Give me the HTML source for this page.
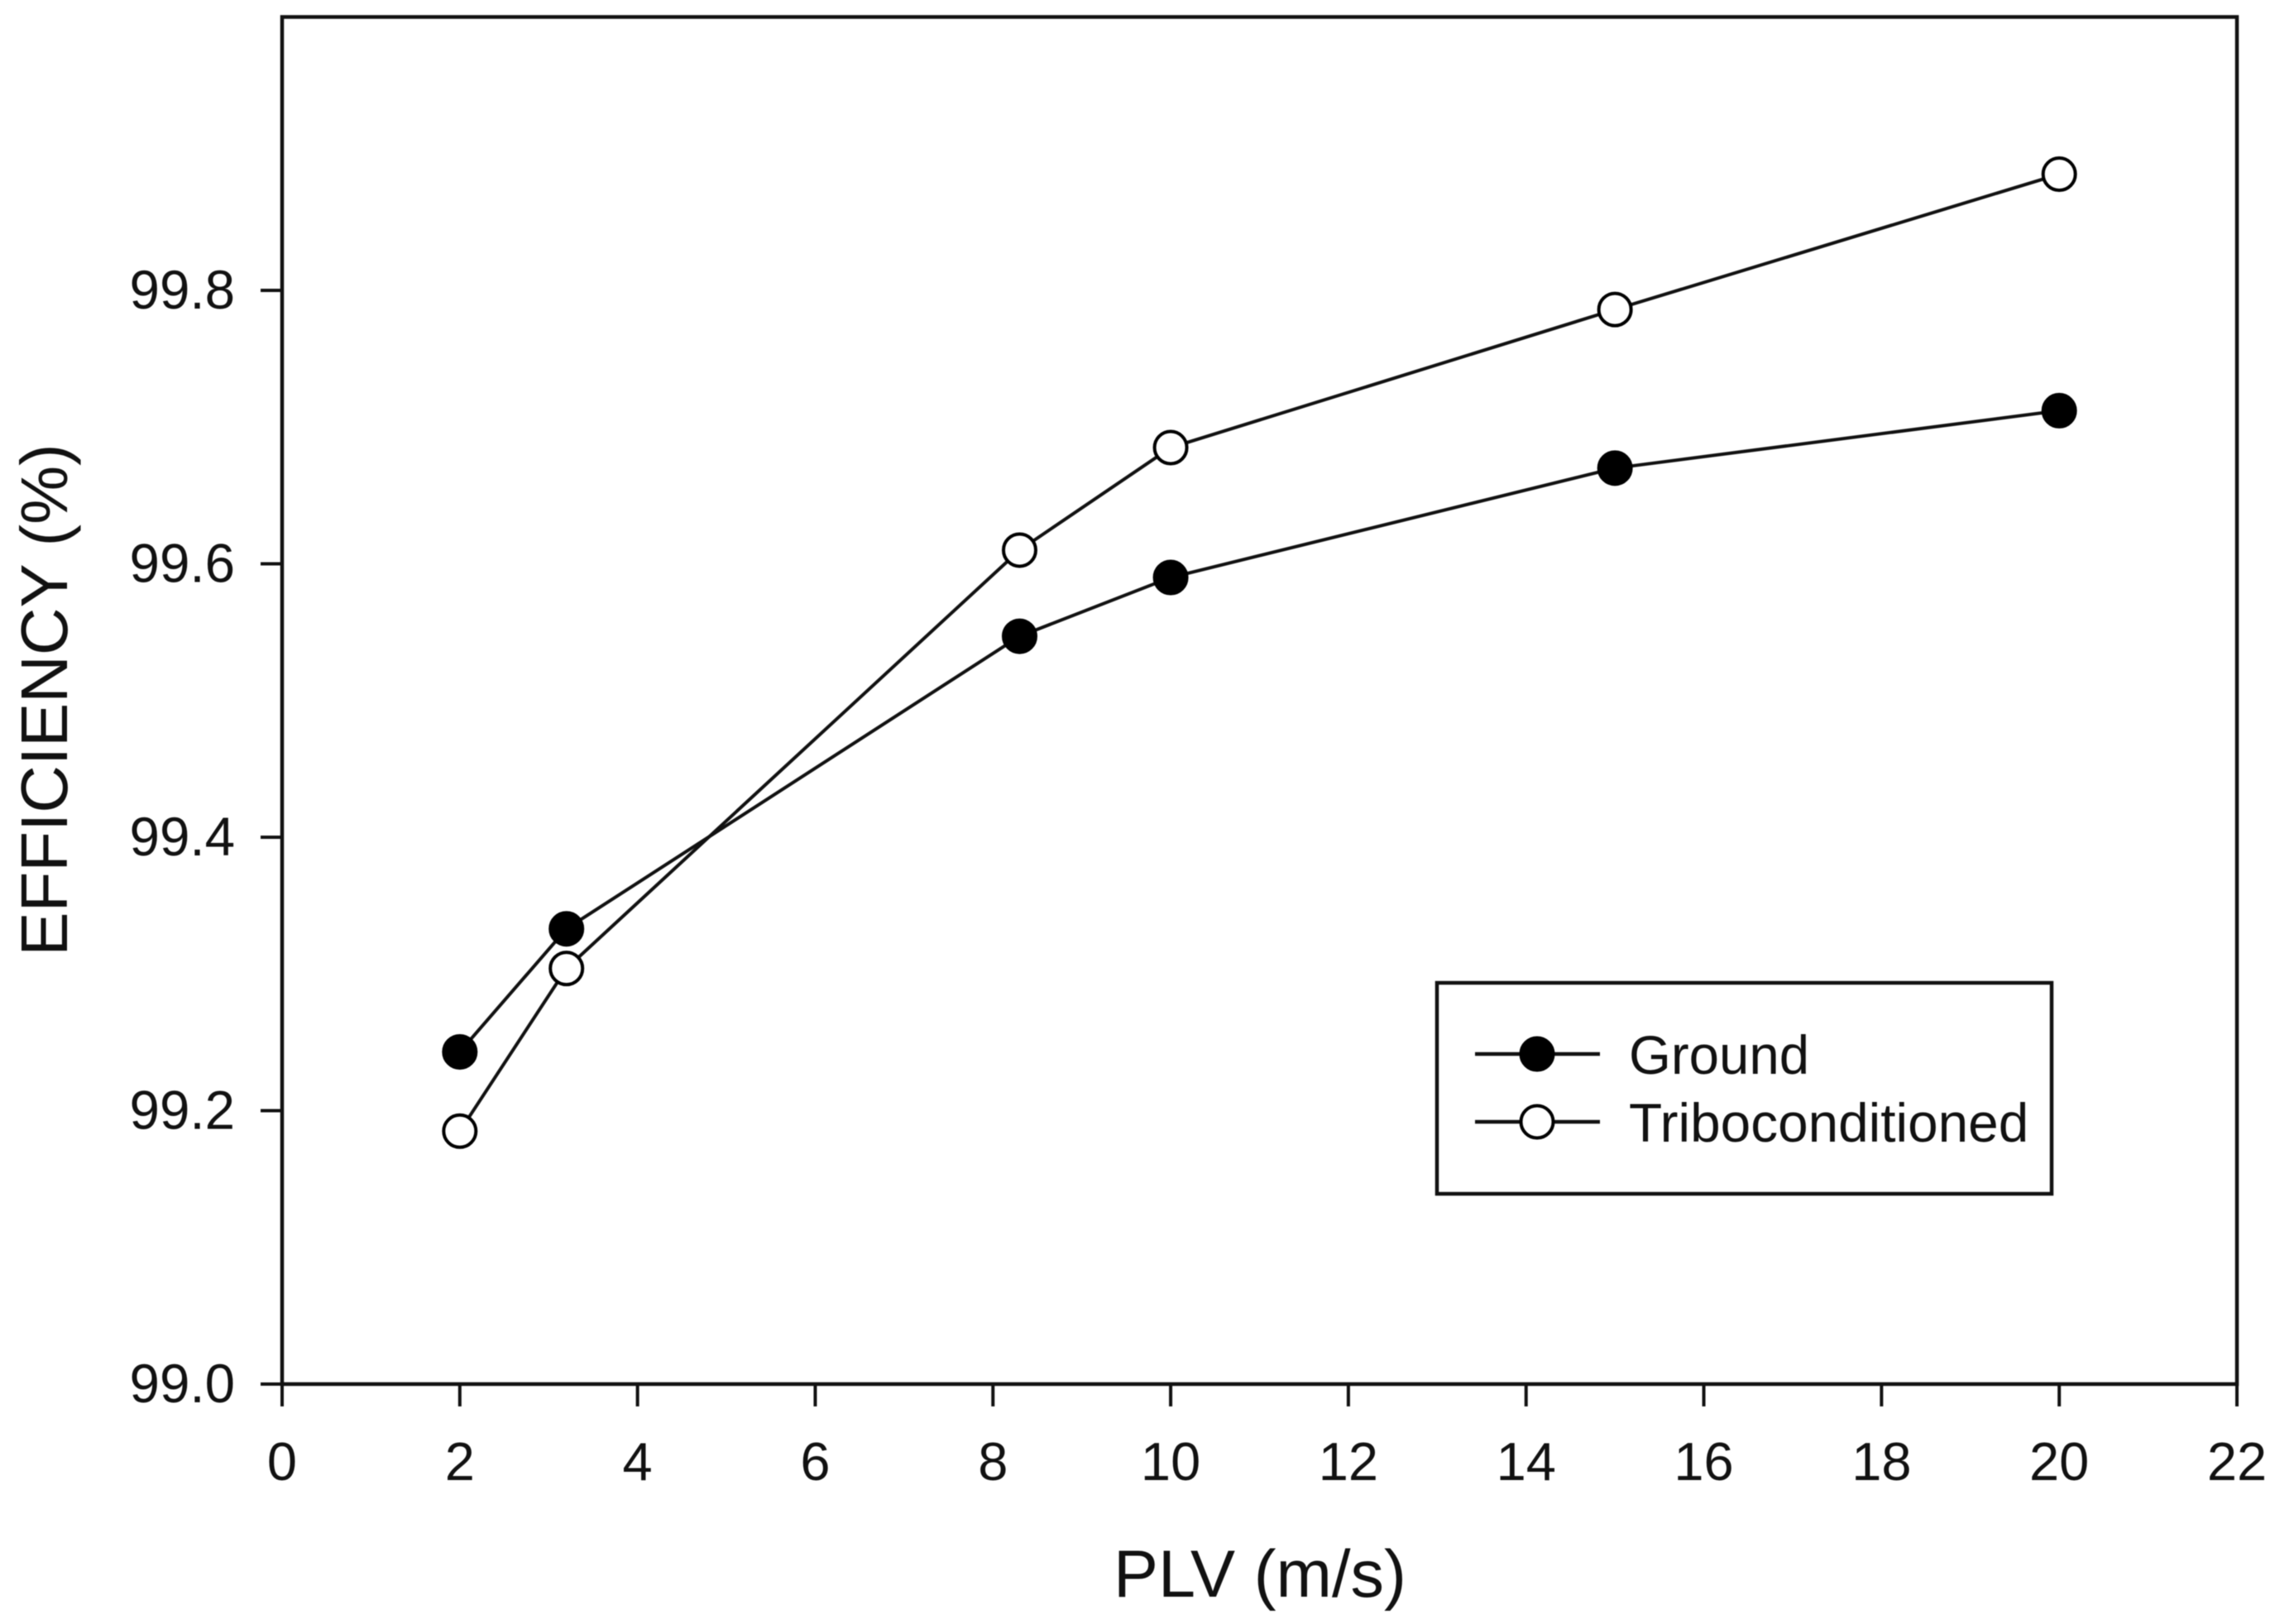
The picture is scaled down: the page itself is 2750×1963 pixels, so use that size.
<!DOCTYPE html>
<html lang="en">
<head>
<meta charset="utf-8">
<title>Efficiency vs PLV</title>
<style>
html,body{margin:0;padding:0;background:#fff;}
svg{display:block;filter:blur(0.6px);}
text{font-family:"Liberation Sans",Arial,sans-serif;fill:#111;}
</style>
</head>
<body>
<svg id="chart" xmlns="http://www.w3.org/2000/svg" width="2750" height="1963" viewBox="0 0 2750 1963">
  <rect x="0" y="0" width="2750" height="1963" fill="#fff"/>
  <g id="series-layer"></g>
  <g id="axis-layer"></g>
  <text x="1523" y="1930" font-size="81" text-anchor="middle">PLV (m/s)</text>
  <text transform="translate(81 846) rotate(-90)" font-size="79.8" text-anchor="middle">EFFICIENCY (%)</text>
  <g>
    <rect x="1737" y="1188" width="743" height="255" fill="#fff" stroke="#111" stroke-width="4.5"/>
    <g>
      <line x1="1783" y1="1274" x2="1934" y2="1274" stroke="#111" stroke-width="4.5"/>
      <circle cx="1858" cy="1274" r="20" fill="#000" stroke="#000" stroke-width="3"/>
      <text x="1969" y="1298" font-size="65.4">Ground</text>
    </g>
    <g>
      <line x1="1783" y1="1356" x2="1934" y2="1356" stroke="#111" stroke-width="4.5"/>
      <circle cx="1858" cy="1356" r="19.5" fill="#fff" stroke="#000" stroke-width="4"/>
      <text x="1969" y="1380" font-size="65.7">Triboconditioned</text>
    </g>
  </g>
</svg>
<script>
const plv = [2, 3.2, 8.3, 10, 15, 20];
const groundEfficiency = [99.243, 99.333, 99.547, 99.590, 99.670, 99.712];
const triboEfficiency = [99.185, 99.304, 99.610, 99.685, 99.786, 99.885];
const xTickLabels = ["0","2","4","6","8","10","12","14","16","18","20","22"];
const yTickLabels = ["99.0","99.2","99.4","99.6","99.8"];

const NS = 'http://www.w3.org/2000/svg';
const xMin = 0, xMax = 22, yMin = 99, yMax = 100;
const plotLeft = 341, plotRight = 2704, plotBottom = 1673, plotTop = 20.5;
function xScale(v){ return plotLeft + (v - xMin) / (xMax - xMin) * (plotRight - plotLeft); }
function yScale(v){ return plotBottom - (v - yMin) / (yMax - yMin) * (plotBottom - plotTop); }
function make(tag, attrs, parent){
  const el = document.createElementNS(NS, tag);
  for (const k in attrs) el.setAttribute(k, attrs[k]);
  parent.appendChild(el);
  return el;
}
const axisLayer = document.getElementById('axis-layer');
const seriesLayer = document.getElementById('series-layer');

const frame = make('rect', {x:plotLeft, y:plotTop, width:plotRight-plotLeft, height:plotBottom-plotTop, fill:'none', stroke:'#111', 'stroke-width':4.5}, axisLayer);



xTickLabels.forEach(function(label){
  const v = parseFloat(label);
  const x = xScale(v);
  const tick = make('line', {x1:x, y1:plotBottom, x2:x, y2:plotBottom+27, stroke:'#111', 'stroke-width':4}, axisLayer);
  
  
  const t = make('text', {x:x, y:1789, 'font-size':65, 'text-anchor':'middle'}, axisLayer);
  
  
  t.textContent = label;
});
yTickLabels.forEach(function(label){
  const v = parseFloat(label);
  const y = yScale(v);
  const tick = make('line', {x1:plotLeft-26, y1:y, x2:plotLeft, y2:y, stroke:'#111', 'stroke-width':4}, axisLayer);
  
  
  const t = make('text', {x:284, y:y+22, 'font-size':65.5, 'text-anchor':'end'}, axisLayer);
  
  
  t.textContent = label;
});

function drawSeries(values, fill, strokeW, radius, seriesName){
  const pts = plv.map(function(x, i){ return xScale(x) + ',' + yScale(values[i]); }).join(' ');
  const line = make('polyline', {points:pts, fill:'none', stroke:'#111', 'stroke-width':4, 'stroke-linejoin':'round'}, seriesLayer);
  
  
  plv.forEach(function(x, i){
    const c = make('circle', {cx:xScale(x), cy:yScale(values[i]), r:radius, fill:fill, stroke:'#000', 'stroke-width':strokeW}, seriesLayer);
    
    
  });
}
drawSeries(groundEfficiency, '#000', 3, 20, 'ground');
drawSeries(triboEfficiency, '#fff', 4, 19.5, 'triboconditioned');
</script>
</body>
</html>
